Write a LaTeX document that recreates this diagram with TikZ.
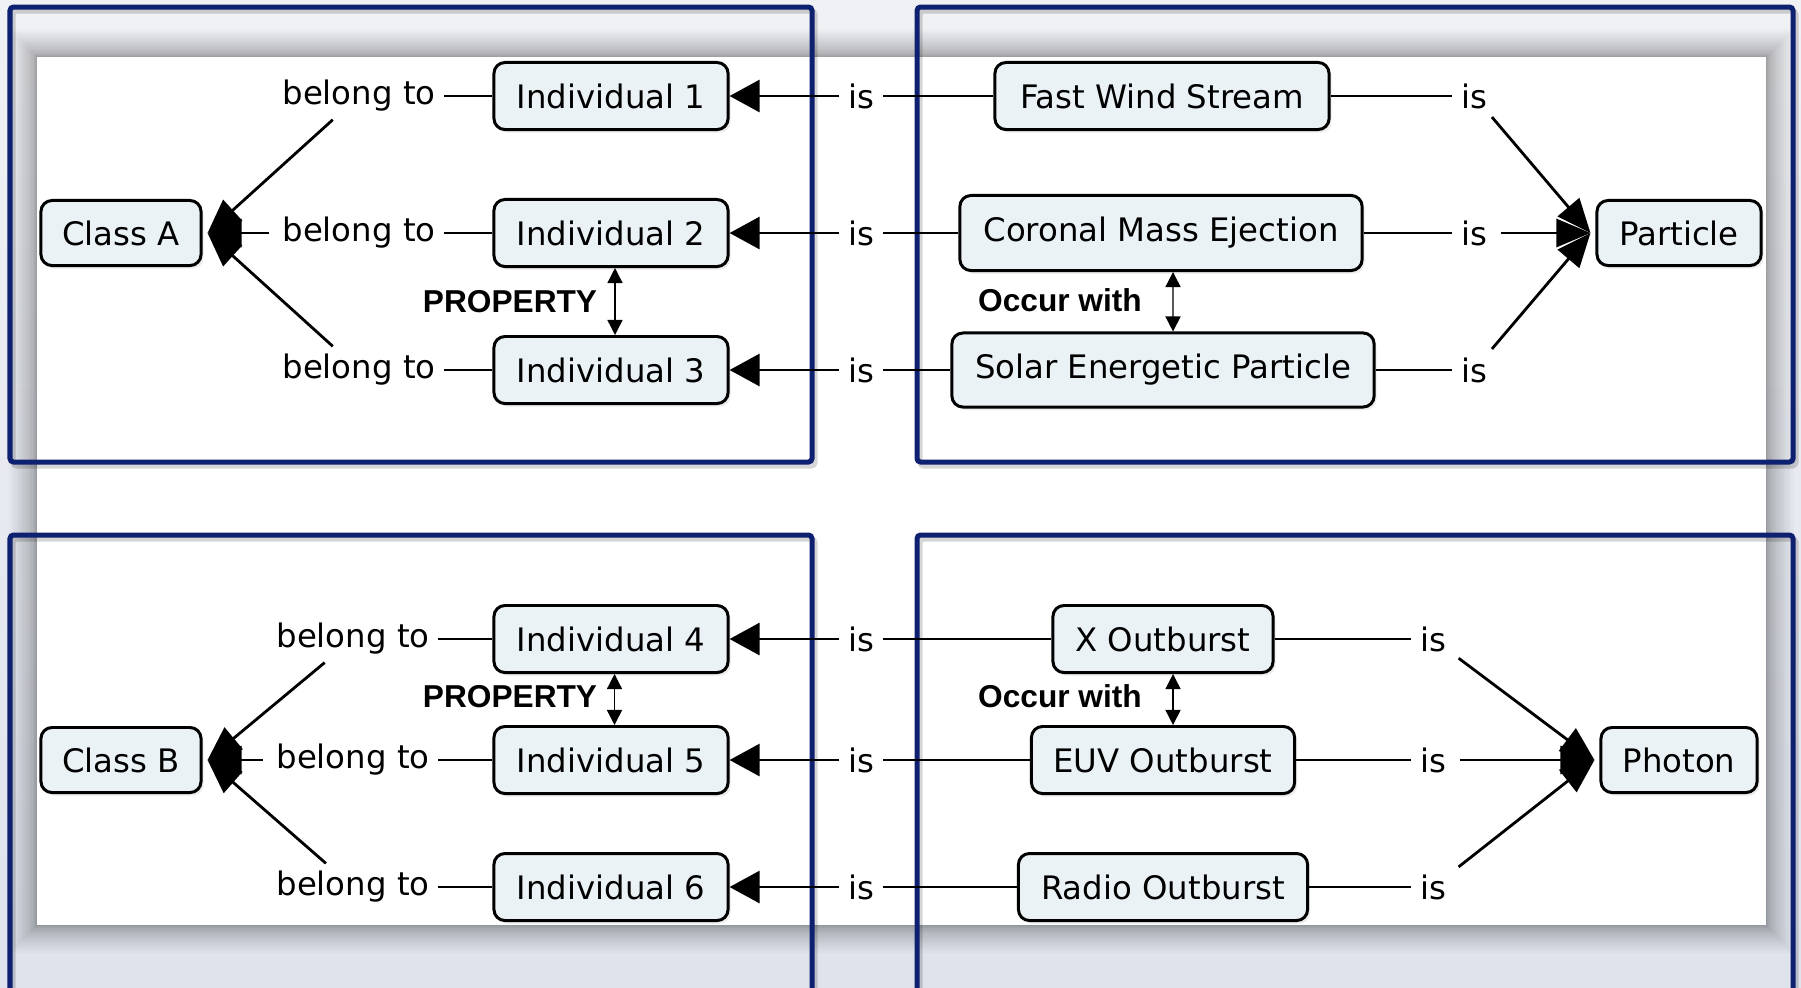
\documentclass[tikz,border=0pt]{standalone}
\usepackage{fontspec}
\usetikzlibrary{arrows.meta,shadows}
\newfontfamily\conceptfont{DejaVu Sans}
\newfontfamily\linkfont{Liberation Sans}
\definecolor{frameblue}{RGB}{14,32,112}
\definecolor{conceptfill}{RGB}{235,242,245}
\definecolor{bgtop}{RGB}{240,241,244}
\definecolor{bgbot}{RGB}{222,227,236}
\begin{document}
\begin{tikzpicture}[x=0.01cm, y=-0.01cm,
  concept/.style={draw=black, line width=0.85pt, fill=conceptfill,
    rounded corners=0.11cm, inner sep=0pt, minimum height=0.67cm,
    font=\conceptfont\fontsize{9.2}{11}\selectfont,
    drop shadow={opacity=0.15, shadow xshift=0.025cm, shadow yshift=-0.03cm}},
  linklabel/.style={inner xsep=0.08cm, inner ysep=0.04cm,
    font=\conceptfont\fontsize{9.2}{11}\selectfont},
  relabel/.style={inner sep=0.03cm, font=\linkfont\bfseries\fontsize{9}{11}\selectfont},
  conn/.style={line width=0.8pt},
  tolink/.style={conn, -{Triangle[length=0.30cm, width=0.32cm]}},
  toclass/.style={conn, shorten <=0.05cm, -{Triangle[length=0.34cm, width=0.28cm]}},
  bothways/.style={line width=0.4pt, {Triangle[length=0.15cm, width=0.15cm]}-{Triangle[length=0.15cm, width=0.15cm]}},
  framebox/.style={draw=frameblue, line width=0.05cm, rounded corners=1pt},
  frameshade/.style={draw=black, opacity=0.16, line width=0.05cm, rounded corners=1pt}]
\useasboundingbox (0,0) rectangle (1801,987);
\clip (0,0) rectangle (1801,987);

% backdrop and the white sheet with a soft shadow that fades quickly
\shade[top color=bgtop, bottom color=bgbot] (0,0) rectangle (1801,987);
\foreach \k in {1,...,20}{
  \pgfmathsetmacro{\off}{0.07*\k*\k}
  \fill[black, opacity=0.018] ({37-\off},{57-\off}) rectangle ({1766+\off},{925+\off});
}
\fill[white] (37,57) rectangle (1766,925);

% four blue frames
\foreach \a/\b/\c/\d in {10/7/812/462, 917/7/1793/462, 10/535/812/1010, 917/535/1793/1010}{
  \draw[frameshade] ({\a+3},{\b+4}) rectangle ({\c+3},{\d+4});
  \draw[framebox] (\a,\b) rectangle (\c,\d);
}

% ---------- upper half ----------
\node[concept, minimum width=1.60cm, minimum height=0.65cm] (clsA) at (121,233) {Class A};
\node[concept, minimum width=2.34cm] (ind1) at (611,96) {Individual 1};
\node[concept, minimum width=2.34cm] (ind2) at (611,233) {Individual 2};
\node[concept, minimum width=2.34cm] (ind3) at (611,370) {Individual 3};
\node[concept, minimum width=3.34cm] (fws) at (1162,96) {Fast Wind Stream};
\node[concept, minimum width=4.02cm, minimum height=0.75cm] (cme) at (1161,233) {Coronal Mass Ejection};
\node[concept, minimum width=4.22cm, minimum height=0.74cm] (sep) at (1163,370) {Solar Energetic Particle};
\node[concept, minimum width=1.64cm, minimum height=0.65cm] (part) at (1679,233) {Particle};

\node[linklabel] (bt1) at (359,96) {belong to};
\node[linklabel] (bt2) at (359,233) {belong to};
\node[linklabel] (bt3) at (359,370) {belong to};
\node[linklabel] (isl1) at (861,96) {is};
\node[linklabel] (isl2) at (861,233) {is};
\node[linklabel] (isl3) at (861,370) {is};
\node[linklabel] (isr1) at (1474,96) {is};
\node[linklabel] (isr2) at (1474,233) {is};
\node[linklabel] (isr3) at (1474,370) {is};
\node[relabel] (prop1) at (510,302) {PROPERTY};
\node[relabel] (occ1) at (1060,300) {Occur with};

\draw[conn] (bt1.east) -- (ind1.west);
\draw[conn] (bt2.east) -- (ind2.west);
\draw[conn] (bt3.east) -- (ind3.west);
\draw[toclass] (bt1) -- ([xshift=0.05cm]clsA.east);
\draw[toclass] (bt2) -- ([xshift=0.05cm]clsA.east);
\draw[toclass] (bt3) -- ([xshift=0.05cm]clsA.east);

\draw[tolink] (isl1.west) -- (ind1.east);
\draw[tolink] (isl2.west) -- (ind2.east);
\draw[tolink] (isl3.west) -- (ind3.east);
\draw[conn] (fws.west) -- (isl1.east);
\draw[conn] (cme.west) -- (isl2.east);
\draw[conn] (sep.west) -- (isl3.east);

\draw[conn] (fws.east) -- (isr1.west);
\draw[conn] (cme.east) -- (isr2.west);
\draw[conn] (sep.east) -- (isr3.west);
\draw[toclass] (isr1) -- ([xshift=-0.05cm]part.west);
\draw[toclass] (isr2.east) -- ([xshift=-0.05cm]part.west);
\draw[toclass] (isr3) -- ([xshift=-0.05cm]part.west);

\draw[bothways] ([xshift=0.04cm]ind2.south) -- ([xshift=0.04cm]ind3.north);
\draw[bothways] ([xshift=0.12cm]cme.south) -- ([xshift=0.10cm]sep.north);

% ---------- lower half ----------
\node[concept, minimum width=1.60cm, minimum height=0.65cm] (clsB) at (121,760) {Class B};
\node[concept, minimum width=2.34cm] (ind4) at (611,639) {Individual 4};
\node[concept, minimum width=2.34cm] (ind5) at (611,760) {Individual 5};
\node[concept, minimum width=2.34cm] (ind6) at (611,887) {Individual 6};
\node[concept, minimum width=2.20cm] (xo) at (1163,639) {X Outburst};
\node[concept, minimum width=2.63cm] (eo) at (1163,760) {EUV Outburst};
\node[concept, minimum width=2.89cm] (ro) at (1163,887) {Radio Outburst};
\node[concept, minimum width=1.56cm, minimum height=0.65cm] (phot) at (1679,760) {Photon};

\node[linklabel] (bt4) at (353,639) {belong to};
\node[linklabel] (bt5) at (353,760) {belong to};
\node[linklabel] (bt6) at (353,887) {belong to};
\node[linklabel] (isl4) at (861,639) {is};
\node[linklabel] (isl5) at (861,760) {is};
\node[linklabel] (isl6) at (861,887) {is};
\node[linklabel] (isr4) at (1433,639) {is};
\node[linklabel] (isr5) at (1433,760) {is};
\node[linklabel] (isr6) at (1433,887) {is};
\node[relabel] (prop2) at (510,697) {PROPERTY};
\node[relabel] (occ2) at (1060,696) {Occur with};

\draw[conn] (bt4.east) -- (ind4.west);
\draw[conn] (bt5.east) -- (ind5.west);
\draw[conn] (bt6.east) -- (ind6.west);
\draw[toclass] (bt4) -- ([xshift=0.05cm]clsB.east);
\draw[toclass] (bt5) -- ([xshift=0.05cm]clsB.east);
\draw[toclass] (bt6) -- ([xshift=0.05cm]clsB.east);

\draw[tolink] (isl4.west) -- (ind4.east);
\draw[tolink] (isl5.west) -- (ind5.east);
\draw[tolink] (isl6.west) -- (ind6.east);
\draw[conn] (xo.west) -- (isl4.east);
\draw[conn] (eo.west) -- (isl5.east);
\draw[conn] (ro.west) -- (isl6.east);

\draw[conn] (xo.east) -- (isr4.west);
\draw[conn] (eo.east) -- (isr5.west);
\draw[conn] (ro.east) -- (isr6.west);
\draw[toclass] (isr4) -- ([xshift=-0.05cm]phot.west);
\draw[toclass] (isr5.east) -- ([xshift=-0.05cm]phot.west);
\draw[toclass] (isr6) -- ([xshift=-0.05cm]phot.west);

\draw[bothways] ([xshift=0.035cm]ind4.south) -- ([xshift=0.035cm]ind5.north);
\draw[bothways] ([xshift=0.10cm]xo.south) -- ([xshift=0.10cm]eo.north);
\end{tikzpicture}
\end{document}
